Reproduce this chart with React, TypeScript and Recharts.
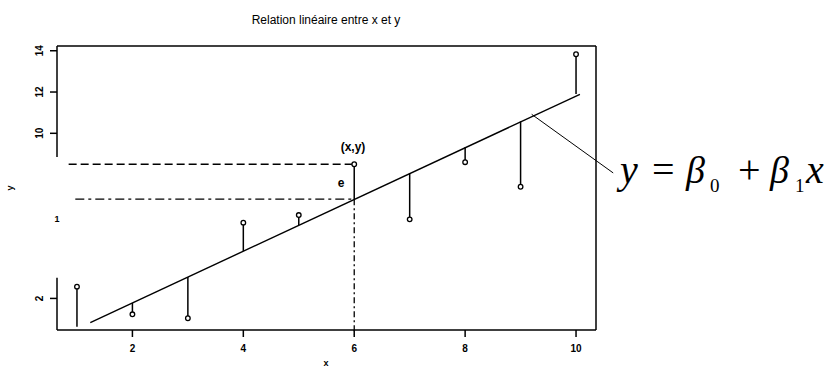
import React from 'react';
import {
  ComposedChart,
  XAxis,
  YAxis,
  Scatter,
  Line,
  ReferenceLine,
  Customized,
} from 'recharts';

const xValues = [1, 2, 3, 4, 5, 6, 7, 8, 9, 10];
const yObserved = [2.57, 1.23, 1.04, 5.67, 6.04, 8.5, 5.83, 8.6, 7.41, 13.83];
// Fitted values at each x (foot of each residual segment)
const yFitted = [0.63, 1.78, 3.04, 4.3, 5.56, 6.81, 8.07, 9.33, 10.58, 11.9];
// Regression line end points
const fitLineX = [1.24, 10.07];
const fitLineY = [0.83, 11.89];
// Axis ticks
const xTicks = [2, 4, 6, 8, 10];
const yTicks = [2, 10, 12, 14];
const xDomain = [0.64, 10.36];
const yDomain = [0.47, 14.23];
// Highlighted observation (x, y) and its projection
const highlightIndex = 5;

const points = xValues.map((x, i) => ({ x, y: yObserved[i] }));
const fitLine = fitLineX.map((x, i) => ({ x, y: fitLineY[i] }));

const FONT = '"Liberation Sans", Arial, sans-serif';

const YTick = (props: any) => {
  const { x, y, payload } = props;
  const tx = x - 5;
  return (
    <text
      x={tx}
      y={y}
      transform={`rotate(-90, ${tx}, ${y})`}
      textAnchor="middle"
      fontSize={10}
      fontWeight="bold"
      fontFamily={FONT}
      fill="#000"
    >
      {payload.value}
    </text>
  );
};

const XTick = (props: any) => {
  const { x, y, payload } = props;
  return (
    <text
      x={x}
      y={y + 13}
      textAnchor="middle"
      fontSize={10}
      fontWeight="bold"
      fontFamily={FONT}
      fill="#000"
    >
      {payload.value}
    </text>
  );
};

const Circle = (props: any) => {
  const { cx, cy } = props;
  return <circle cx={cx} cy={cy} r={2.3} fill="#fff" stroke="#000" strokeWidth={1.3} />;
};

const SERIF = '"Liberation Serif", "Times New Roman", serif';

const Texts = () => (
  <g>
    <text x={326} y={24} textAnchor="middle" fontSize={12} fontFamily={FONT} fill="#000">
      Relation linéaire entre x et y
    </text>
    <text
      x={13}
      y={188}
      transform="rotate(-90, 13, 188)"
      textAnchor="middle"
      fontSize={9}
      fontWeight="bold"
      fontFamily={FONT}
      fill="#000"
    >
      y
    </text>
    <text x={57} y={222} textAnchor="middle" fontSize={9} fontWeight="bold" fontFamily={FONT} fill="#000">
      1
    </text>
    <text x={326} y={366} textAnchor="middle" fontSize={9} fontWeight="bold" fontFamily={FONT} fill="#000">
      x
    </text>
    <text x={353} y={151} textAnchor="middle" fontSize={12} fontWeight="bold" fontFamily={FONT} fill="#000">
      (x,y)
    </text>
    <text x={341} y={187} textAnchor="middle" fontSize={12} fontWeight="bold" fontFamily={FONT} fill="#000">
      e
    </text>
    <g fontFamily={SERIF} fill="#000">
      <text x={620} y={183} fontSize={40} fontStyle="italic">y</text>
      <text x={652} y={183} fontSize={40}>=</text>
      <text x={686} y={183} fontSize={38} fontStyle="italic">β</text>
      <text x={710} y={192} fontSize={19}>0</text>
      <text x={738} y={183} fontSize={40}>+</text>
      <text x={770} y={183} fontSize={38} fontStyle="italic">β</text>
      <text x={795} y={192} fontSize={19}>1</text>
      <text x={806} y={183} fontSize={40} fontStyle="italic">x</text>
    </g>
  </g>
);

export default function App() {
  const hx = xValues[highlightIndex];
  const hy = yObserved[highlightIndex];
  const hf = yFitted[highlightIndex];
  return (
    <div style={{ position: 'absolute', left: 0, top: 0, width: 833, height: 369, background: '#fff' }}>
      <ComposedChart
        width={833}
        height={369}
        data={points}
        margin={{ top: 46, right: 237, left: 27, bottom: 9 }}
      >
        <XAxis
          dataKey="x"
          type="number"
          domain={xDomain}
          ticks={xTicks}
          allowDataOverflow
          tickSize={7}
          tickLine={{ stroke: '#000', strokeWidth: 1.5 }}
          axisLine={{ stroke: '#000', strokeWidth: 1.5 }}
          tick={<XTick />}
          height={30}
        />
        <YAxis
          type="number"
          domain={yDomain}
          ticks={yTicks}
          allowDataOverflow
          tickSize={7}
          tickLine={{ stroke: '#000', strokeWidth: 1.5 }}
          axisLine={false}
          tick={<YTick />}
          width={30}
        />
        {/* plot frame */}
        <ReferenceLine y={yDomain[1]} stroke="#000" strokeWidth={1.5} ifOverflow="visible" />
        <ReferenceLine x={xDomain[1]} stroke="#000" strokeWidth={1.5} ifOverflow="visible" />
        <ReferenceLine
          segment={[{ x: xDomain[0], y: yDomain[1] }, { x: xDomain[0], y: 8.85 }]}
          stroke="#000"
          strokeWidth={1.5}
          ifOverflow="visible"
        />
        <ReferenceLine
          segment={[{ x: xDomain[0], y: 3.0 }, { x: xDomain[0], y: yDomain[0] }]}
          stroke="#000"
          strokeWidth={1.5}
          ifOverflow="visible"
        />
        {/* projections of the highlighted point */}
        <ReferenceLine
          segment={[{ x: 0.85, y: hy }, { x: hx, y: hy }]}
          stroke="#000"
          strokeWidth={1.3}
          strokeDasharray="8 4"
          ifOverflow="visible"
        />
        <ReferenceLine
          segment={[{ x: 0.97, y: hf }, { x: hx, y: hf }]}
          stroke="#000"
          strokeWidth={1.3}
          strokeDasharray="9 4 3 4"
          ifOverflow="visible"
        />
        <ReferenceLine
          segment={[{ x: hx, y: hf }, { x: hx, y: 0.25 }]}
          stroke="#000"
          strokeWidth={1.3}
          strokeDasharray="6 3 2 3"
          ifOverflow="visible"
        />
        {/* residuals */}
        {xValues.map((x, i) => (
          <ReferenceLine
            key={`res-${x}`}
            segment={[{ x, y: yObserved[i] }, { x, y: yFitted[i] }]}
            stroke="#000"
            strokeWidth={1.5}
            ifOverflow="visible"
          />
        ))}
        {/* pointer from equation to the line */}
        <ReferenceLine
          segment={[{ x: 9.2, y: 10.92 }, { x: 10.67, y: 8.08 }]}
          stroke="#000"
          strokeWidth={1}
          ifOverflow="visible"
        />
        <Line
          data={fitLine}
          dataKey="y"
          type="linear"
          stroke="#000"
          strokeWidth={1.4}
          dot={false}
          activeDot={false}
          isAnimationActive={false}
        />
        <Scatter data={points} dataKey="y" shape={<Circle />} isAnimationActive={false} />
        <Customized component={Texts} />
      </ComposedChart>
    </div>
  );
}
